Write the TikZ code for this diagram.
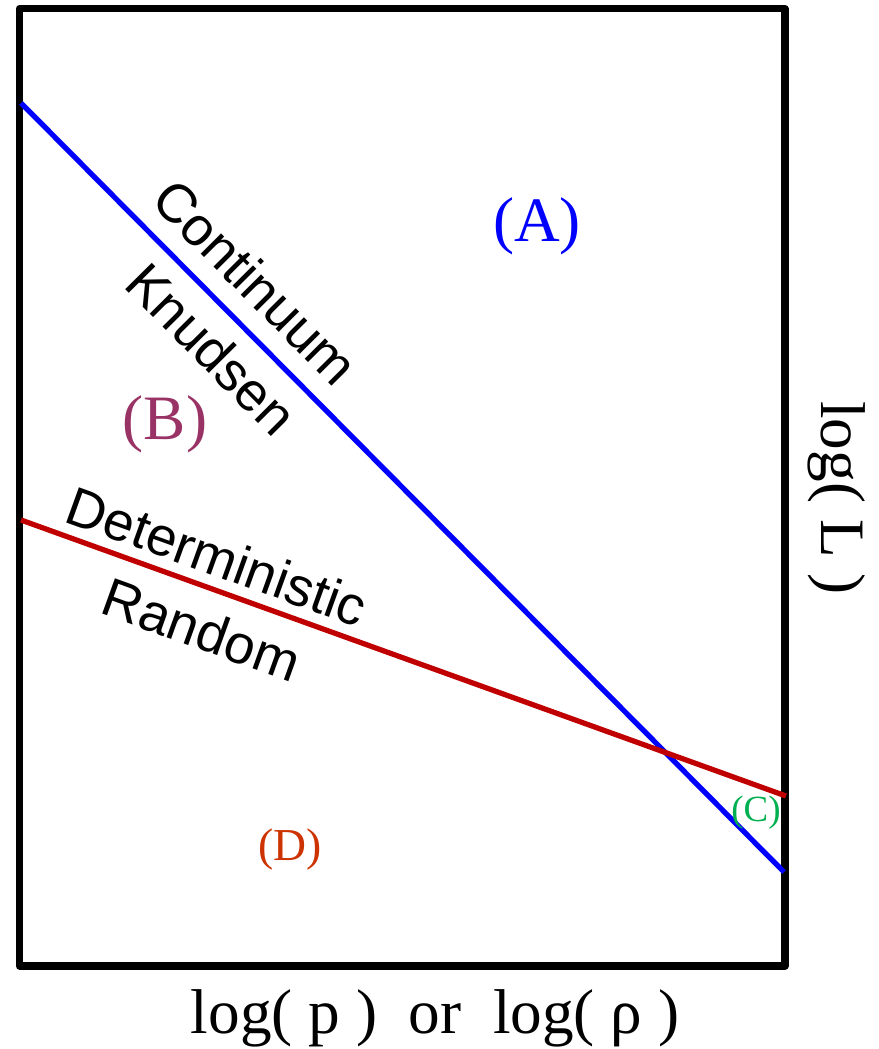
\documentclass[tikz,border=0pt]{standalone}
\usepackage{fontspec}
\setmainfont{Liberation Serif}
\newfontfamily\arialfont{Liberation Sans}
\usepackage{xcolor}
\definecolor{regionA}{HTML}{0000FF}
\definecolor{regionB}{HTML}{993366}
\definecolor{regionC}{HTML}{00B050}
\definecolor{regionD}{HTML}{CC3300}
\definecolor{detred}{HTML}{C00000}
\usetikzlibrary{positioning}
\tikzset{
  boundary/.style={line width=3pt},
  regime/.style={font=\arialfont\fontsize{31}{36}\selectfont,inner sep=0pt,sloped},
  region/.style={inner sep=0pt},
}

\begin{document}
\begin{tikzpicture}[x=0.02cm,y=-0.02cm]
  \useasboundingbox (0,0) rectangle (879,1049);
  % Frame
  \coordinate (tl) at (19.5,8.5);
  \coordinate (br) at (785,966);
  \draw[line width=4pt,line join=round] (tl) rectangle (br);
  % Boundaries between regimes
  \coordinate (blueL) at (21,103);
  \coordinate (blueR) at (784,872);
  \coordinate (redL) at (21,520);
  \coordinate (redR) at (786,796);
  \draw[boundary,regionA] (blueL) -- (blueR)
    node[regime,pos=0.27,above=0.36cm,text=black] (cont) {Continuum}
    node[regime,pos=0.285,below=0.3cm,text=black] (knud) {Knudsen};
  \draw[boundary,detred] (redL) -- (redR)
    node[regime,pos=0.242,above=0.2cm,text=black] (det) {Deterministic}
    node[regime,pos=0.255,below=0.38cm,text=black] (rand) {Random};
  % Regions
  \node[region,text=regionA,font=\fontsize{36}{40}\selectfont] (A) at (537,226) {(A)};
  \node[region,text=regionB,font=\fontsize{36}{40}\selectfont] (B) at (165,424) {(B)};
  \node[region,text=regionC,font=\fontsize{21}{24}\selectfont] (C) at (756,813) {(C)};
  \node[region,text=regionD,font=\fontsize{26}{30}\selectfont] (D) at (290,850) {(D)};
  % Axes
  \node[region,font=\fontsize{36}{40}\selectfont] (xlab) at (435,1018) {log(~p~)~~or~~log(~ρ~)};
  \node[region,rotate=-90,font=\fontsize{36}{40}\selectfont] (ylab) at (837,498) {log(~L~)};
\end{tikzpicture}
\end{document}
